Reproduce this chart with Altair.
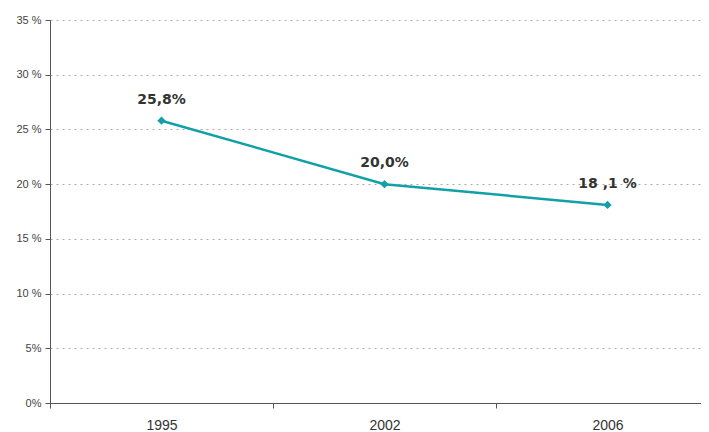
import altair as alt
import pandas as pd

years = ["1995", "2002", "2006"]
values = [25.8, 20.0, 18.1]
labels = ["25,8%", "20,0%", "18 ,1 %"]

df = pd.DataFrame({"year": years, "value": values, "label": labels})

x = alt.X("year:O", sort=years,
          scale=alt.Scale(type="band", domain=years, range=[0, 669],
                          paddingInner=0, paddingOuter=0),
          axis=alt.Axis(title=None, labelAngle=0, tickBand="extent", labelFontSize=14,
                        labelColor="#333333", labelFont="Liberation Sans", labelPadding=10,
                        domainColor="#555555", tickColor="#555555", tickSize=5,
                        grid=False))
y = alt.Y("value:Q",
          scale=alt.Scale(domain=[0, 35]),
          axis=alt.Axis(title=None, values=[0, 5, 10, 15, 20, 25, 30, 35],
                        labelExpr="datum.value < 10 ? datum.value + '%' : datum.value + ' %'",
                        labelFontSize=11, labelColor="#444444", labelFont="Liberation Sans",
                        labelPadding=4, domainColor="#555555", tickColor="#555555", tickSize=5,
                        grid=True, gridColor="#aaaaaa", gridDash=[2, 4], gridWidth=1))

base = alt.Chart(df)

line = base.mark_line(color="#12A0A8", strokeWidth=2.5).encode(x=x, y=y)
pts = base.mark_point(shape="diamond", filled=True, size=70, color="#12A0A8", opacity=1).encode(x=x, y=y)
txt = base.mark_text(dy=-21, fontSize=14, fontWeight="bold", font="DejaVu Sans",
                     color="#333333").encode(x=x, y=y, text="label:N")

chart = alt.layer(line, pts, txt).properties(
    width=651, height=383,
    autosize=alt.AutoSizeParams(type="none"),
    padding={"left": 42, "top": 12, "right": 0, "bottom": 30},
).configure_view(stroke=None)

chart.save("out.html", embed_options={"renderer": "svg", "actions": False})
